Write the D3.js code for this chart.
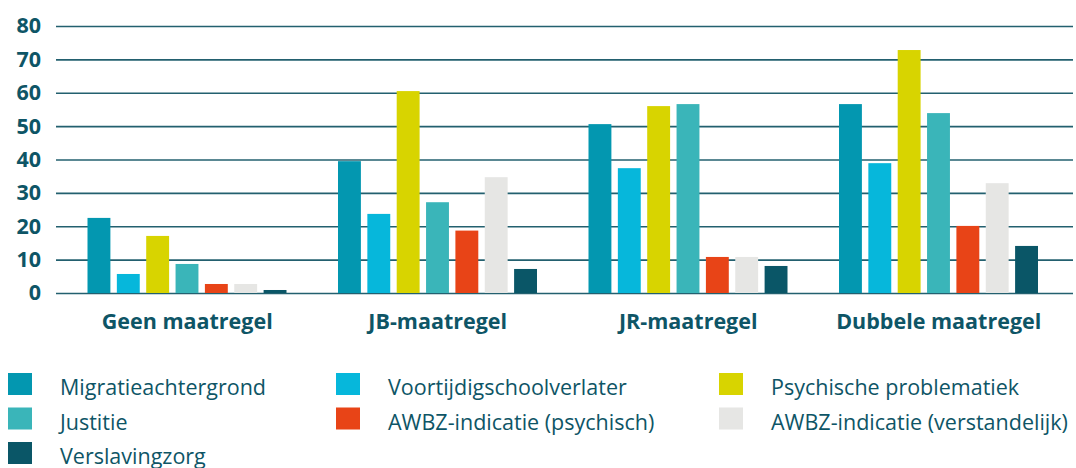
<!DOCTYPE html>
<html lang="nl">
<head>
    <meta charset="UTF-8">
    <title>Maatregelen</title>
    <script src="https://d3js.org/d3.v7.min.js"></script>
    <style>
        body { margin: 0; background: #fff; }
        text { font-family: "Open Sans", sans-serif; fill: #0e5566; }
        .tick text { font-weight: 700; font-size: 21.5px; }
        .cat { font-weight: 700; font-size: 21.5px; }
        .legend text { font-size: 21.5px; }
    </style>
</head>
<body>
    <div id="chart"></div>
    <script>
        // data
        const categories = ["Geen maatregel", "JB-maatregel", "JR-maatregel", "Dubbele maatregel"];
        const seriesNames = ["Migratieachtergrond", "Voortijdigschoolverlater", "Psychische problematiek",
            "Justitie", "AWBZ-indicatie (psychisch)", "AWBZ-indicatie (verstandelijk)", "Verslavingzorg"];
        const colors = ["#0397b0", "#06b7db", "#d8d400", "#3ab5b9", "#e84417", "#e6e6e4", "#0a5667"];
        const migratie = [22.5, 39.5, 50.6, 56.6];
        const voortijdig = [5.7, 23.7, 37.4, 38.9];
        const psychisch = [17.1, 60.5, 56.0, 72.8];
        const justitie = [8.7, 27.2, 56.6, 53.9];
        const awbzPsych = [2.7, 18.7, 10.8, 20.1];
        const awbzVerst = [2.7, 34.7, 10.8, 32.9];
        const verslaving = [0.9, 7.2, 8.1, 14.1];
        const yTicks = [0, 10, 20, 30, 40, 50, 60, 70, 80];

        const allSeries = [migratie, voortijdig, psychisch, justitie, awbzPsych, awbzVerst, verslaving];

        const W = 1076, H = 468;
        const svg = d3.select("#chart").append("svg")
            .attr("width", W).attr("height", H);

        const y = d3.scaleLinear().domain([0, 80]).range([293, 26]);
        const x0 = d3.scaleBand().domain(categories).range([62, 1064]).padding(0);
        const x1 = d3.scaleBand().domain(d3.range(seriesNames.length))
            .range([25.5, 224.5]).paddingInner(0.22).paddingOuter(0);

        // gridlines + y labels
        const yAxis = svg.append("g")
            .attr("transform", "translate(56,0)")
            .call(d3.axisLeft(y).tickValues(yTicks).tickSize(-1017).tickPadding(15));
        yAxis.select(".domain").remove();
        yAxis.selectAll(".tick line").attr("stroke", "#23606f").attr("stroke-width", 1.6);

        // bars
        const groups = svg.append("g").selectAll("g")
            .data(categories)
            .join("g")
            .attr("transform", d => `translate(${x0(d)},0)`);

        groups.selectAll("rect")
            .data((d, i) => allSeries.map((s, k) => ({k: k, v: s[i]})))
            .join("rect")
            .attr("x", d => x1(d.k))
            .attr("width", x1.bandwidth())
            .attr("y", d => y(d.v))
            .attr("height", d => y(0) - y(d.v))
            .attr("fill", d => colors[d.k]);

        // category labels
        svg.append("g").selectAll("text")
            .data(categories)
            .join("text")
            .attr("class", "cat")
            .attr("x", d => x0(d) + x0.bandwidth() / 2)
            .attr("y", 329)
            .attr("text-anchor", "middle")
            .text(d => d);

        // legend
        const legendCols = [8, 336, 719];
        const legend = svg.append("g").attr("class", "legend");
        const items = legend.selectAll("g")
            .data(seriesNames)
            .join("g")
            .attr("transform", (d, i) => `translate(${legendCols[i % 3]},${373 + Math.floor(i / 3) * 34.5})`);
        items.append("rect")
            .attr("width", 24).attr("height", 22)
            .attr("fill", (d, i) => colors[i]);
        items.append("text")
            .attr("x", 52).attr("y", 22)
            .text(d => d);
    </script>
</body>
</html>
